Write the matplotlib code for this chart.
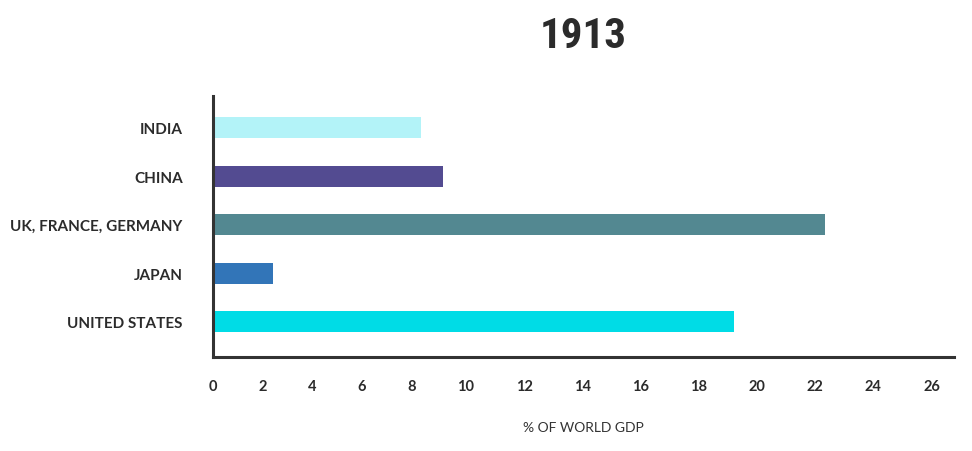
import matplotlib
matplotlib.use('Agg')
import matplotlib.pyplot as plt
from matplotlib import font_manager

# ---- data ----
categories = ['INDIA', 'CHINA', 'UK, FRANCE, GERMANY', 'JAPAN', 'UNITED STATES']
values = [7.6, 8.4, 22.3, 2.2, 19.0]
colors = ['#b3f3f8', '#534b91', '#538891', '#3275b8', '#00dce6']
tick_values = list(range(0, 27, 2))
tick_labels = [str(v) for v in tick_values]
title = '1913'
xlabel = '% OF WORLD GDP'

installed = {f.name for f in font_manager.fontManager.ttflist}


def pick(*names):
    for n in names:
        if n in installed:
            return n
    return 'DejaVu Sans'


body_font = pick('Lato', 'Open Sans', 'Noto Sans', 'DejaVu Sans')
title_font = pick('Liberation Sans Narrow', 'DejaVu Sans Condensed', 'Roboto Condensed', 'Liberation Sans')
dark = '#2b2b2b'

W, H = 972, 452
fig = plt.figure(figsize=(W / 100, H / 100), dpi=100)
left, right, top, bottom = 212.5, 954, 97, 357.5
ax = fig.add_axes([left / W, 1 - bottom / H, (right - left) / W, (bottom - top) / H])

n = len(categories)
ypos = list(range(n - 1, -1, -1))
ax.barh(ypos, values, height=0.433, color=colors, zorder=1)
ax.set_xlim(0, 27)
ax.set_ylim(-0.72, n - 1 + 0.65)

for s in ['top', 'right']:
    ax.spines[s].set_visible(False)
for s in ['left', 'bottom']:
    ax.spines[s].set_linewidth(2.2)
    ax.spines[s].set_color('#333333')
    ax.spines[s].set_zorder(3)

ax.set_yticks(ypos)
ax.set_yticklabels(categories, fontfamily=body_font, fontweight='bold',
                   fontsize=11, color=dark)
ax.tick_params(axis='y', length=0, pad=21.5)

tick_kw = dict(fontfamily=body_font, fontweight='bold', fontsize=10.5, color=dark)
ax.set_xticks(tick_values)
ax.set_xticklabels(tick_labels, **tick_kw)
ax.tick_params(axis='x', length=0, pad=16)

# tick labels laid out with equal gaps between them (as in the reference)
fig.canvas.draw()
renderer = fig.canvas.get_renderer()
widths = [t.get_window_extent(renderer).width for t in ax.get_xticklabels()]
to_disp = ax.transData.transform
x0_disp = to_disp((0, 0))[0] - widths[0] / 2
ax_bb = ax.get_window_extent(renderer)
x1_disp = ax_bb.x1 - 14
gap = (x1_disp - x0_disp - sum(widths)) / (len(widths) - 1)
centers = []
cur = x0_disp
for w in widths:
    centers.append(cur + w / 2)
    cur += w + gap
inv = ax.transData.inverted()
new_pos = [inv.transform((c, 0))[0] for c in centers]
ax.set_xticks(new_pos)
ax.set_xticklabels(tick_labels, **tick_kw)
ax.set_xlim(0, 27)

cx = (left + right) / 2 / W
fig.text(cx, 1 - 37 / H, title, ha='center', va='center', fontsize=31,
         fontweight='bold', fontfamily=title_font, color=dark)
fig.text(cx, 1 - 428 / H, xlabel, ha='center', va='center', fontsize=10,
         fontweight='normal', fontfamily=body_font, color='#333333')

fig.savefig('out.png', dpi=100)
